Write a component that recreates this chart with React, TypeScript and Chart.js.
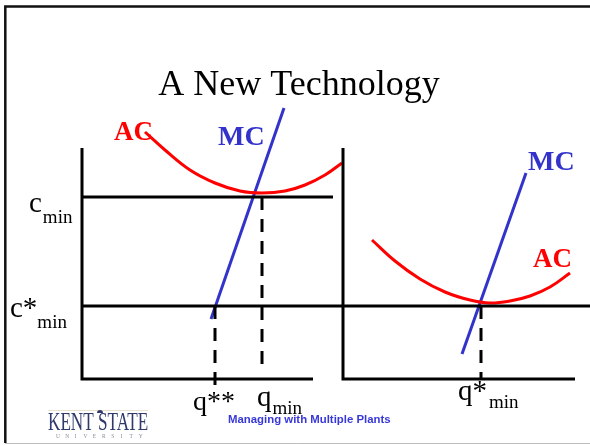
import React, { useEffect, useRef } from "react";
import { Chart, registerables } from "chart.js";

Chart.register(...registerables);

// ---------- data (diagram units: quantity on x, cost on y) ----------
const cMin = 18.2;
const cStarMin = 7.3;
const qStarStar = 13.3;
const qMin = 18.0;
const qStarMin = 39.9;
const rightOrigin = 26.1;
const axisTop = 23.1;
const leftBaseEnd = 23.1;
const rightBaseEnd = 49.3;
const cMinLineEnd = 25.1;
const cStarLineEnd = 50.8;

// old technology (left panel)
const oldAcX = [6.3, 8.3, 10.8, 13.3, 15.8, 18.0, 20.3, 22.3, 24.3, 26.0];
const oldAcY = [24.7, 22.9, 20.9, 19.6, 18.8, 18.6, 18.8, 19.4, 20.4, 21.6];
const oldMcX = [12.9, 20.2];
const oldMcY = [6.0, 27.1];

// new technology (right panel)
const newAcX = [29.0, 31.3, 33.8, 36.3, 38.8, 40.8, 42.8, 44.8, 46.8, 48.8];
const newAcY = [13.9, 11.8, 10.0, 8.7, 7.9, 7.6, 7.8, 8.3, 9.2, 10.6];
const newMcX = [38.0, 44.4];
const newMcY = [2.5, 20.6];

// ---------- texts ----------
const titleText = "A New Technology";
const footerText = "Managing with Multiple Plants";
const logoText = "KENT STATE";
const logoSub = "UNIVERSITY";

const RED = "#FF0000";
const BLUE = "#3333CC";
const BLACK = "#000000";
const SERIF = '"Liberation Serif", "Times New Roman", serif';
const SANS = '"Liberation Sans", Arial, sans-serif';

const pts = (xs: number[], ys: number[]) => xs.map((x, i) => ({ x, y: ys[i] }));

type Lbl = {
  main: string;
  sub?: string;
  x: number;
  y: number;
  color: string;
  size: number;
  bold?: boolean;
  subDx?: number;
  subDy?: number;
  subSize?: number;
  align?: CanvasTextAlign;
};

const labels: Lbl[] = [
  { main: titleText, x: 21.7, y: 28.4, color: BLACK, size: 36, align: "center" },
  { main: "AC", x: 3.2, y: 23.9, color: RED, size: 27, bold: true },
  { main: "MC", x: 13.6, y: 23.4, color: BLUE, size: 28, bold: true },
  { main: "MC", x: 44.6, y: 20.9, color: BLUE, size: 28, bold: true },
  { main: "AC", x: 45.1, y: 11.2, color: RED, size: 27, bold: true },
  { main: "c", sub: "min", x: -5.3, y: 16.7, color: BLACK, size: 29, subDx: 1, subDy: 11, subSize: 19 },
  { main: "c*", sub: "min", x: -7.2, y: 6.2, color: BLACK, size: 29, subDx: 0, subDy: 11, subSize: 19 },
  { main: "q**", x: 11.1, y: -3.1, color: BLACK, size: 28 },
  { main: "q", sub: "min", x: 17.5, y: -2.7, color: BLACK, size: 29, subDx: 1, subDy: 8, subSize: 19 },
  { main: "q*", sub: "min", x: 37.6, y: -2.1, color: BLACK, size: 29, subDx: 2, subDy: 8, subSize: 19 },
];

const textPlugin = {
  id: "diagramText",
  beforeDatasetsDraw(chart: any) {
    const ctx = chart.ctx as CanvasRenderingContext2D;
    const W = chart.width;
    ctx.save();
    // slide frame
    ctx.strokeStyle = "#bdbdbd";
    ctx.lineWidth = 1;
    ctx.beginPath();
    ctx.moveTo(5, 443.5);
    ctx.lineTo(W, 443.5);
    ctx.stroke();
    ctx.strokeStyle = "#111";
    ctx.lineWidth = 2.5;
    ctx.beginPath();
    ctx.moveTo(W, 6.5);
    ctx.lineTo(5.3, 6.5);
    ctx.lineTo(5.3, 443);
    ctx.stroke();
    ctx.restore();
  },
  afterDatasetsDraw(chart: any) {
    const ctx = chart.ctx as CanvasRenderingContext2D;
    const xs = chart.scales.x;
    const ys = chart.scales.y;
    ctx.save();
    ctx.textBaseline = "alphabetic";
    for (const l of labels) {
      const px = xs.getPixelForValue(l.x);
      const py = ys.getPixelForValue(l.y);
      ctx.fillStyle = l.color;
      ctx.font = `${l.bold ? "bold " : ""}${l.size}px ${SERIF}`;
      ctx.textAlign = l.align || "left";
      ctx.fillText(l.main, px, py);
      if (l.sub) {
        const w = ctx.measureText(l.main).width;
        ctx.font = `${l.subSize}px ${SERIF}`;
        ctx.textAlign = "left";
        ctx.fillText(l.sub, px + w + (l.subDx || 0), py + (l.subDy || 0));
      }
    }
    // footer
    ctx.fillStyle = "#3838D8";
    ctx.font = `bold 11.4px ${SANS}`;
    ctx.textAlign = "left";
    ctx.fillText(footerText, 228, 423);
    // logo
    ctx.strokeStyle = "#e8e2cf";
    ctx.lineWidth = 1;
    ctx.beginPath();
    ctx.moveTo(48, 410.5);
    ctx.lineTo(148, 410.5);
    ctx.stroke();
    ctx.fillStyle = "#2F3A6B";
    ctx.beginPath();
    ctx.arc(100, 413, 3, Math.PI, 0);
    ctx.fill();
    ctx.save();
    ctx.translate(48, 430);
    ctx.scale(0.66, 1);
    ctx.font = `26px ${SERIF}`;
    ctx.fillText(logoText, 0, 0);
    ctx.restore();
    ctx.fillStyle = "#8c8c98";
    ctx.font = `5.5px ${SERIF}`;
    logoSub.split("").forEach((ch, i) => {
      ctx.fillText(ch, 56 + i * 9.2, 438);
    });
    ctx.restore();
  },
};

const line = (data: { x: number; y: number }[], color: string, extra: any = {}) => ({
  data,
  showLine: true,
  borderColor: color,
  backgroundColor: color,
  borderWidth: 3,
  pointRadius: 0,
  pointHoverRadius: 0,
  fill: false,
  borderCapStyle: "butt",
  ...extra,
});

export default function App() {
  const ref = useRef<HTMLCanvasElement | null>(null);
  useEffect(() => {
    if (!ref.current) return;
    const datasets = [
      // axes
      line(pts([0, 0, leftBaseEnd], [axisTop, 0, 0]), BLACK),
      line(pts([rightOrigin, rightOrigin, rightBaseEnd], [axisTop, 0, 0]), BLACK),
      line(pts([0, cMinLineEnd], [cMin, cMin]), BLACK),
      line(pts([0, cStarLineEnd], [cStarMin, cStarMin]), BLACK),
      // dashed drops
      line(pts([qStarStar, qStarStar], [cStarMin, -0.6]), BLACK, { borderDash: [13, 9] }),
      line(pts([qMin, qMin], [cMin, 0.9]), BLACK, { borderDash: [13, 9] }),
      line(pts([qStarMin, qStarMin], [cStarMin, 0]), BLACK, { borderDash: [13, 9] }),
      // curves
      line(pts(oldAcX, oldAcY), RED, { tension: 0.4 }),
      line(pts(newAcX, newAcY), RED, { tension: 0.4 }),
      line(pts(oldMcX, oldMcY), BLUE),
      line(pts(newMcX, newMcY), BLUE),
    ];
    const chart = new Chart(ref.current, {
      type: "scatter",
      data: { datasets },
      options: {
        responsive: false,
        animation: false,
        layout: { padding: 0 },
        plugins: { legend: { display: false }, tooltip: { enabled: false }, title: { display: false } },
        events: [],
        scales: {
          x: { type: "linear", min: -8.2, max: 50.8, display: false },
          y: { type: "linear", min: -6.7, max: 37.9, display: false },
        },
      },
      plugins: [textPlugin],
    } as any);
    return () => chart.destroy();
  }, []);
  return (
    <div style={{ position: "fixed", left: 0, top: 0, width: 590, height: 446, background: "#fff" }}>
      <canvas ref={ref} width={590} height={446} style={{ display: "block", width: 590, height: 446 }} />
    </div>
  );
}
